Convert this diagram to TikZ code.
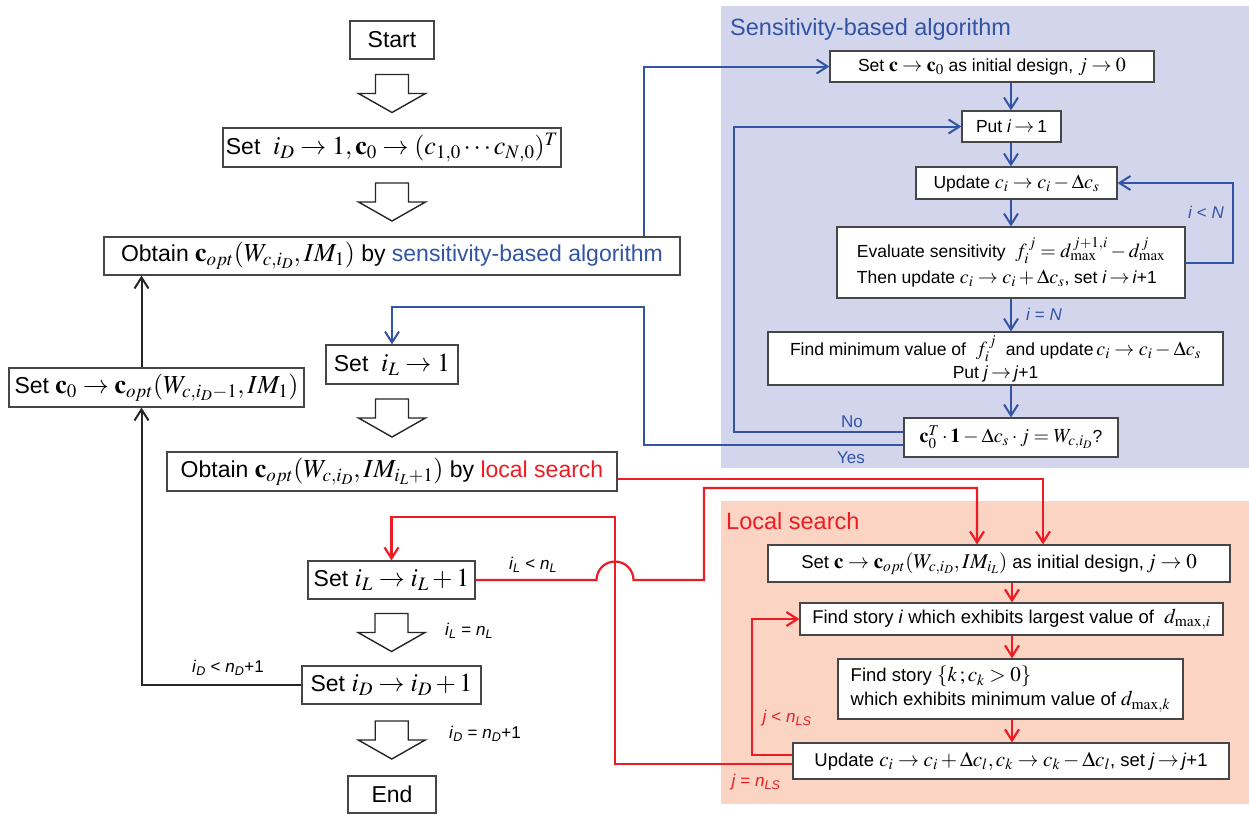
\documentclass[tikz,border=0pt]{standalone}
\usepackage{mathptmx}
\usepackage[no-math]{fontspec}
\setmainfont{Liberation Sans}
\DeclareMathSizes{23}{26}{19}{15}
\DeclareMathSizes{17.5}{20}{15}{11.5}
\DeclareMathSizes{18.5}{21}{15.5}{12}
\usetikzlibrary{arrows.meta,calc}
\definecolor{bgblue}{RGB}{211,213,236}
\definecolor{bgsalmon}{RGB}{251,212,196}
\definecolor{tblue}{RGB}{50,84,165}
\definecolor{tred}{RGB}{237,28,36}
\definecolor{boxgray}{RGB}{70,70,70}
\tikzset{
  box/.style={draw=boxgray, fill=white, line width=1.2pt, inner sep=0pt, align=center},
  mbox/.style={box, font=\fontsize{23}{27}\selectfont},
  sbox/.style={box, font=\fontsize{17.5}{22}\selectfont},
  lbox/.style={box, font=\fontsize{18.5}{24}\selectfont},
  lbl/.style={font=\fontsize{17}{20}\selectfont, inner sep=1pt},
  tip/.style={-{Straight Barb[length=11pt,width=14pt]}},
  bl/.style={draw=tblue, line width=2pt, tip},
  bk/.style={draw=black!85, line width=2pt, tip},
  rd/.style={draw=tred, line width=2.2pt, tip},
  blockarr/.style={draw=black!85, fill=white, line width=1.4pt, line join=miter},
  title/.style={font=\fontsize{23.5}{28}\selectfont, inner sep=0pt, anchor=base west}
}
\newcommand{\blockarrow}[2]{%
  \path ($(#1.south)!0.5!(#2.north)$) coordinate (m);
  \draw[blockarr] ($(m)+(-16.5,-19)$) -- ($(m)+(16.5,-19)$) -- ($(m)+(16.5,0)$)
    -- ($(m)+(33.5,0)$) -- ($(m)+(0,19)$) -- ($(m)+(-33.5,0)$) -- ($(m)+(-16.5,0)$) -- cycle;}
\begin{document}
\begin{tikzpicture}[x=1pt,y=-1pt]
\useasboundingbox (0,0) rectangle (1249,814);
% backgrounds
\fill[bgblue] (721,6) rectangle (1249,468);
\fill[bgsalmon] (721,501) rectangle (1249,804);
\node[title, text=tblue] (t1) at (730,35) {Sensitivity-based algorithm};
\node[title, text=tred] (t2) at (726,529) {Local search};

% main column
\node[mbox, minimum width=84pt, minimum height=38pt] (start) at (392,40) {Start};
\node[mbox, minimum width=338pt, minimum height=39pt] (setiD) at (392,147.5) {Set\; $i_D \rightarrow 1, \mathbf{c}_0 \rightarrow (c_{1,0}\cdots c_{N,0})^T$};
\node[mbox, minimum width=576pt, minimum height=38pt] (obtain) at (392,256) {Obtain $\mathbf{c}_{opt}(W_{c,i_D},IM_1)$ by \textcolor{tblue}{sensitivity-based algorithm}};
\node[mbox, minimum width=132pt, minimum height=39pt] (setiL1) at (392,364.5) {Set\; $i_L \rightarrow 1$};
\node[mbox, minimum width=295pt, minimum height=39pt] (setc0) at (156.5,387.5) {Set $\mathbf{c}_0 \rightarrow \mathbf{c}_{opt}(W_{c,i_D-1},IM_1)$};
\node[mbox, minimum width=450pt, minimum height=39pt] (obtainLS) at (392,471.5) {Obtain $\mathbf{c}_{opt}(W_{c,i_D},IM_{i_L+1})$ by \textcolor{tred}{local search}};
\node[mbox, minimum width=167pt, minimum height=38pt] (setiLinc) at (391.5,580) {Set $i_L \rightarrow i_L+1$};
\node[mbox, minimum width=179pt, minimum height=38pt] (setiDinc) at (391.5,685) {Set $i_D \rightarrow i_D+1$};
\node[mbox, minimum width=88pt, minimum height=37pt] (end) at (392,794.5) {End};

\blockarrow{start}{setiD}
\blockarrow{setiD}{obtain}
\blockarrow{setiL1}{obtainLS}
\blockarrow{setiLinc}{setiDinc}
\blockarrow{setiDinc}{end}

% sensitivity-based algorithm
\node[sbox, minimum width=324pt, minimum height=31pt] (sSet) at (992,66.5) {Set $\mathbf{c} \rightarrow \mathbf{c}_0$ as initial design, $j \rightarrow 0$};
\node[sbox, minimum width=99pt, minimum height=31pt] (sPut) at (1011.5,126.5) {Put \textit{i}\,$\rightarrow$\,1};
\node[sbox, minimum width=201pt, minimum height=32pt] (sUpd) at (1016.5,183) {Update $c_i \rightarrow c_i - \Delta c_s$};
\node[sbox, minimum width=348pt, minimum height=71pt, align=left] (sEval) at (1011,262.5) {Evaluate sensitivity\; $f_i^{\,j} = d_{\max}^{\,j+1,i} - d_{\max}^{\,j}$\\[4pt]Then update $c_i \rightarrow c_i + \Delta c_s$, set \textit{i}\,$\rightarrow$\,\textit{i}+1};
\node[sbox, minimum width=455pt, minimum height=53pt] (sFind) at (995.5,358.5) {Find minimum value of\; $f_i^{\,j}$\; and update\,$c_i \rightarrow c_i - \Delta c_s$\\[1pt]Put \textit{j}\,$\rightarrow$\,\textit{j}+1};
\node[sbox, minimum width=214pt, minimum height=39pt] (sCheck) at (1011,437.5) {$\mathbf{c}_0^T\cdot\mathbf{1} - \Delta c_s\cdot j = W_{c,i_D}$?};

% local search
\node[lbox, minimum width=462pt, minimum height=37pt] (lSet) at (999,563.5) {Set $\mathbf{c} \rightarrow \mathbf{c}_{opt}(W_{c,i_D}, IM_{i_L})$ as initial design,$\,j \rightarrow 0$};
\node[lbox, minimum width=423pt, minimum height=32pt] (lFindI) at (1011.5,619) {Find story \textit{i} which exhibits largest value of\; $d_{\max,i}$};
\node[lbox, minimum width=345pt, minimum height=60pt, align=left] (lFindK) at (1010.5,689) {Find story $\{k\,;c_k>0\}$\\which exhibits minimum value of $d_{\max,k}$};
\node[lbox, minimum width=436pt, minimum height=36pt] (lUpd) at (1011,761) {Update $c_i \rightarrow c_i+\Delta c_l, c_k \rightarrow c_k-\Delta c_l$, set \textit{j}\,$\rightarrow$\,\textit{j}+1};

% coordinates for connectors
\coordinate (bx1) at (644,0);
\coordinate (sx) at (1011,0);
\coordinate (rN) at (1233,0);
\coordinate (lx) at (734,0);
\coordinate (yy) at (644,307);
\coordinate (bx) at (141.5,0);
\coordinate (r1) at (1043,0);
\coordinate (r2) at (977,488);
\coordinate (jmp) at (615,580);
\coordinate (lx2) at (1012,0);
\coordinate (lj) at (752,0);
\coordinate (rv) at (615,517);

% blue connectors
\draw[bl] (obtain.north -| bx1) |- (sSet.west);
\draw[bl] (sx |- sSet.south) -- (sx |- sPut.north);
\draw[bl] (sx |- sPut.south) -- (sx |- sUpd.north);
\draw[bl] (sx |- sUpd.south) -- (sx |- sEval.north);
\draw[bl] (sx |- sEval.south) -- (sx |- sFind.north);
\node[lbl, text=tblue] (lblEq) at (1044,314) {\textit{i} = \textit{N}};
\draw[bl] (sx |- sFind.south) -- (sx |- sCheck.north);
\draw[bl] (sEval.east) -- (sEval.east -| rN) |- (sUpd.east);
\node[lbl, text=tblue] (lblN) at (1206,212) {\textit{i} < \textit{N}};
\draw[bl] ($(sCheck.west)+(0,-5.5)$) -| (lx |- sPut.west) -- (sPut.west);
\draw[bl] ($(sCheck.west)+(0,7.5)$) -| (yy) -| (setiL1.north);
\node[lbl, text=tblue] (lblNo) at (852,422) {No};
\node[lbl, text=tblue] (lblYes) at (851,458) {Yes};

% black connectors
\draw[bk] (bx |- setc0.north) -- (bx |- obtain.south);
\draw[bk] (setiDinc.west) -| (bx |- setc0.south);
\node[lbl] (lblD1) at (228,668) {\textit{i}\textsubscript{\textit{D}} < \textit{n}\textsubscript{\textit{D}}+1};
\node[lbl] (lblL2) at (469,631) {\textit{i}\textsubscript{\textit{L}} = \textit{n}\textsubscript{\textit{L}}};
\node[lbl] (lblD2) at (485,734) {\textit{i}\textsubscript{\textit{D}} = \textit{n}\textsubscript{\textit{D}}+1};
\node[lbl] (lblL1) at (533,565) {\textit{i}\textsubscript{\textit{L}} < \textit{n}\textsubscript{\textit{L}}};

% red connectors
\draw[rd] ($(obtainLS.east)+(0,7.5)$) -| (r1 |- lSet.north);
\draw[rd] (setiLinc.east) -- ($(jmp)+(-18.5,0)$) arc[start angle=180,end angle=0,radius=18.5pt] -- (704,580) |- (r2) -- (r2 |- lSet.north);
\draw[rd] (lx2 |- lSet.south) -- (lx2 |- lFindI.north);
\draw[rd] (lx2 |- lFindI.south) -- (lx2 |- lFindK.north);
\draw[rd] (lx2 |- lFindK.south) -- (lx2 |- lUpd.north);
\draw[rd] ($(lUpd.west)+(0,-6)$) -| (lj |- lFindI.west) -- (lFindI.west);
\draw[rd] ($(lUpd.west)+(0,3)$) -| (rv) -| (setiLinc.north);
\node[lbl, text=tred] (lblj1) at (787,718) {\textit{j} < \textit{n}\textsubscript{\textit{LS}}};
\node[lbl, text=tred] (lblj2) at (756,782) {\textit{j} = \textit{n}\textsubscript{\textit{LS}}};
\end{tikzpicture}
\end{document}
